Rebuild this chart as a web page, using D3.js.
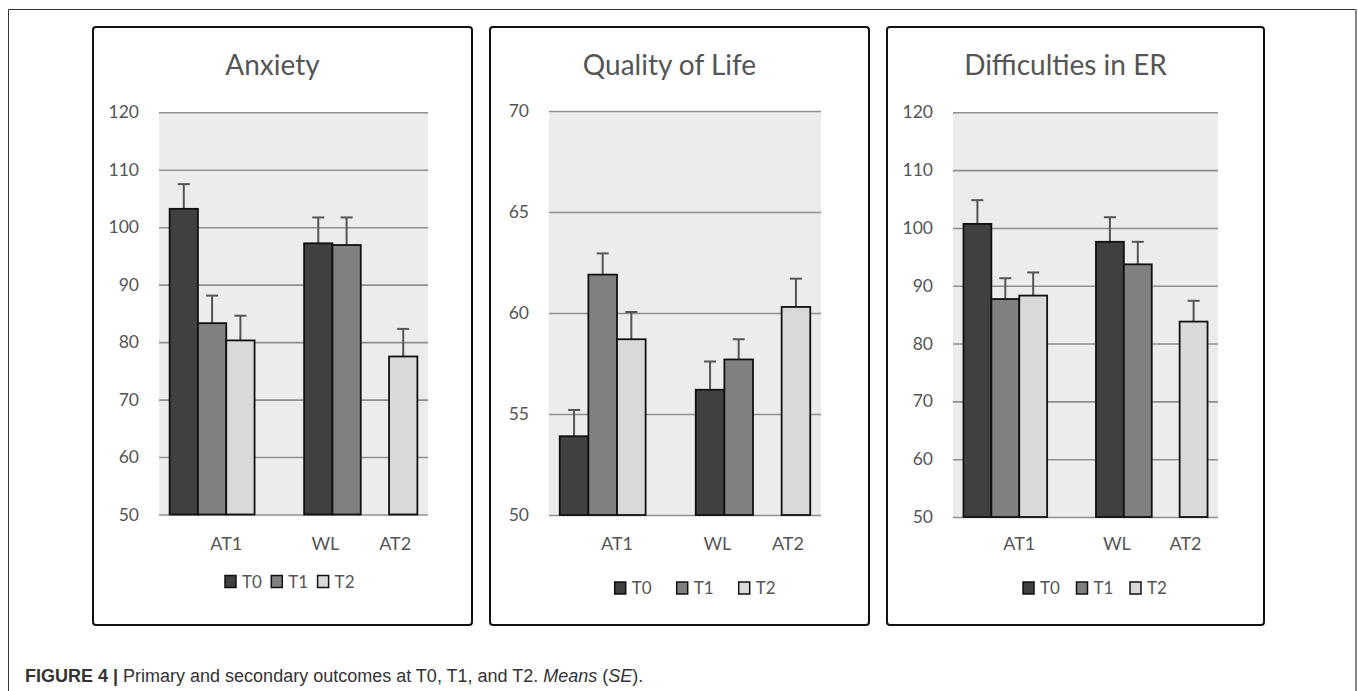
<!DOCTYPE html>
<html>
<head>
<meta charset="utf-8">
<script src="https://cdn.jsdelivr.net/npm/d3@7"></script>
<style>
  html, body { margin: 0; padding: 0; background: #fff; }
  svg { display: block; }
</style>
</head>
<body>
<svg id="chart" width="1358" height="691"></svg>
<script>
// ---------- data ----------
const panelTitles = ["Anxiety", "Quality of Life", "Difficulties in ER"];
const timeSeries = ["T0", "T1", "T2"];
const barGroup = ["AT1", "AT1", "AT1", "WL", "WL", "AT2"];
const barTime  = ["T0",  "T1",  "T2",  "T0", "T1", "T2"];
const xLabels = ["AT1", "WL", "AT2"];

const anxietyMean = [103.2, 83.3, 80.3, 97.2, 96.9, 77.5];
const anxietySE   = [4.3, 4.8, 4.3, 4.5, 4.8, 4.8];
const qolMean = [53.9, 61.9, 58.7, 56.2, 57.7, 60.3];
const qolSE   = [1.3, 1.05, 1.35, 1.4, 1.0, 1.4];
const derMean = [100.7, 87.7, 88.3, 97.6, 93.7, 83.8];
const derSE   = [4.1, 3.6, 4.0, 4.25, 3.9, 3.6];

const anxietyTicks = [50, 60, 70, 80, 90, 100, 110, 120];
const qolTicks = [50, 55, 60, 65, 70];
const derTicks = [50, 60, 70, 80, 90, 100, 110, 120];

const captionBold = "FIGURE 4 |";
const captionText = " Primary and secondary outcomes at T0, T1, and T2. ";
const captionItalic1 = "Means";
const captionMid = " (";
const captionItalic2 = "SE";
const captionEnd = ").";

// ---------- layout ----------
const colors = { T0: "#404040", T1: "#808080", T2: "#d9d9d9" };
const textGray = "#555555";
const font = "Lato, 'Open Sans', sans-serif";

const layouts = [
  { box: [93, 27, 472, 625], plot: [159, 112.3, 428, 514.5], legend: { x: 225, step: 46.3, y: 581.5 } },
  { box: [490, 27, 869, 625], plot: [549, 111, 821, 515],   legend: { x: 614.7, step: 62, y: 588 } },
  { box: [887, 27, 1264, 625], plot: [953, 112.3, 1218, 517], legend: { x: 1023, step: 53.5, y: 588 } }
];

const panelData = [
  { title: panelTitles[0], mean: anxietyMean, se: anxietySE, ticks: anxietyTicks },
  { title: panelTitles[1], mean: qolMean, se: qolSE, ticks: qolTicks },
  { title: panelTitles[2], mean: derMean, se: derSE, ticks: derTicks }
];

const svg = d3.select("#chart");

// outer figure frame
svg.append("line").attr("x1", 8.5).attr("y1", 9.5).attr("x2", 1356).attr("y2", 9.5)
  .attr("stroke", "#333").attr("stroke-width", 1);
svg.append("line").attr("x1", 8.5).attr("y1", 9.5).attr("x2", 8.5).attr("y2", 691)
  .attr("stroke", "#333").attr("stroke-width", 1);
svg.append("line").attr("x1", 1356).attr("y1", 9.5).attr("x2", 1356).attr("y2", 691)
  .attr("stroke", "#888").attr("stroke-width", 2);

panelData.forEach((p, i) => {
  const L = layouts[i];
  const g = svg.append("g");
  const [bx0, by0, bx1, by1] = L.box;
  const [px0, py0, px1, py1] = L.plot;

  // panel box
  g.append("rect").attr("x", bx0).attr("y", by0).attr("width", bx1 - bx0).attr("height", by1 - by0)
    .attr("rx", 3).attr("fill", "#fff").attr("stroke", "#111").attr("stroke-width", 2);

  // title
  g.append("text").attr("x", (bx0 + bx1) / 2 - 10).attr("y", 75)
    .attr("text-anchor", "middle").attr("font-family", font).attr("font-size", 28)
    .attr("fill", textGray).text(p.title);

  const y = d3.scaleLinear().domain([d3.min(p.ticks), d3.max(p.ticks)]).range([py1, py0]);

  // Excel-like categories: AT1 group and WL group (AT2 sits in the 4th slot of the WL group)
  const cat = d3.scaleBand().domain(["AT1", "WL"]).range([px0, px1]).padding(0);
  const slotKeys = ["T0", "T1", "T2", "AT2"];
  const bw = cat.bandwidth();
  const gap = bw * 0.079;
  const slot = d3.scaleBand().domain(slotKeys).range([gap, bw - gap]).padding(0);

  // background
  g.append("rect").attr("x", px0).attr("y", py0).attr("width", px1 - px0).attr("height", py1 - py0)
    .attr("fill", "#ececec");

  // gridlines
  const yAxis = d3.axisLeft(y).tickValues(p.ticks).tickSize(-(px1 - px0)).tickPadding(20);
  const ax = g.append("g").attr("transform", `translate(${px0},0)`).call(yAxis);
  ax.select(".domain").remove();
  ax.selectAll(".tick line").attr("stroke", "#8f8f8f").attr("stroke-width", 1.6);
  ax.selectAll(".tick text").attr("font-family", font).attr("font-size", 17.5).attr("fill", textGray);

  const bars = barGroup.map((grp, k) => ({
    group: grp, time: barTime[k], mean: p.mean[k], se: p.se[k],
    category: grp === "AT1" ? "AT1" : "WL",
    slotKey: grp === "AT2" ? "AT2" : barTime[k]
  }));
  const bx = d => cat(d.category) + slot(d.slotKey);
  const sw = slot.bandwidth();

  // error bars
  const eb = g.append("g");
  bars.forEach(d => {
    const cx = bx(d) + sw / 2;
    eb.append("line").attr("x1", cx).attr("x2", cx).attr("y1", y(d.mean)).attr("y2", y(d.mean + d.se))
      .attr("stroke", "#555").attr("stroke-width", 2);
    eb.append("line").attr("x1", cx - 6).attr("x2", cx + 6).attr("y1", y(d.mean + d.se)).attr("y2", y(d.mean + d.se))
      .attr("stroke", "#555").attr("stroke-width", 2);
  });

  // bars
  g.append("g").selectAll("rect").data(bars).join("rect")
    .attr("x", d => bx(d)).attr("y", d => y(d.mean))
    .attr("width", sw).attr("height", d => y(y.domain()[0]) - y(d.mean))
    .attr("fill", d => colors[d.time]).attr("stroke", "#111").attr("stroke-width", 1.8);

  // x labels
  const labelX = {
    AT1: cat("AT1") + bw / 2,
    WL: cat("WL") + slot("T1") - 7,
    AT2: cat("WL") + slot("AT2") + sw / 2 - 8
  };
  g.append("g").selectAll("text").data(xLabels).join("text")
    .attr("x", d => labelX[d]).attr("y", 550).attr("text-anchor", "middle")
    .attr("font-family", font).attr("font-size", 18).attr("fill", textGray).text(d => d);

  // legend
  const lg = g.append("g");
  timeSeries.forEach((t, k) => {
    const lx = L.legend.x + k * L.legend.step;
    lg.append("rect").attr("x", lx).attr("y", L.legend.y - 6).attr("width", 11).attr("height", 12)
      .attr("fill", colors[t]).attr("stroke", "#111").attr("stroke-width", 1.5);
    lg.append("text").attr("x", lx + 17).attr("y", L.legend.y).attr("dy", "0.36em")
      .attr("font-family", font).attr("font-size", 17).attr("fill", textGray).text(t);
  });
});

// caption
const cap = svg.append("text").attr("x", 25).attr("y", 682)
  .attr("font-family", "'Liberation Sans', Arial, sans-serif").attr("font-size", 18).attr("fill", "#333");
cap.append("tspan").attr("font-weight", "bold").text(captionBold);
cap.append("tspan").text(captionText);
cap.append("tspan").attr("font-style", "italic").text(captionItalic1);
cap.append("tspan").text(captionMid);
cap.append("tspan").attr("font-style", "italic").text(captionItalic2);
cap.append("tspan").text(captionEnd);
</script>
</body>
</html>
